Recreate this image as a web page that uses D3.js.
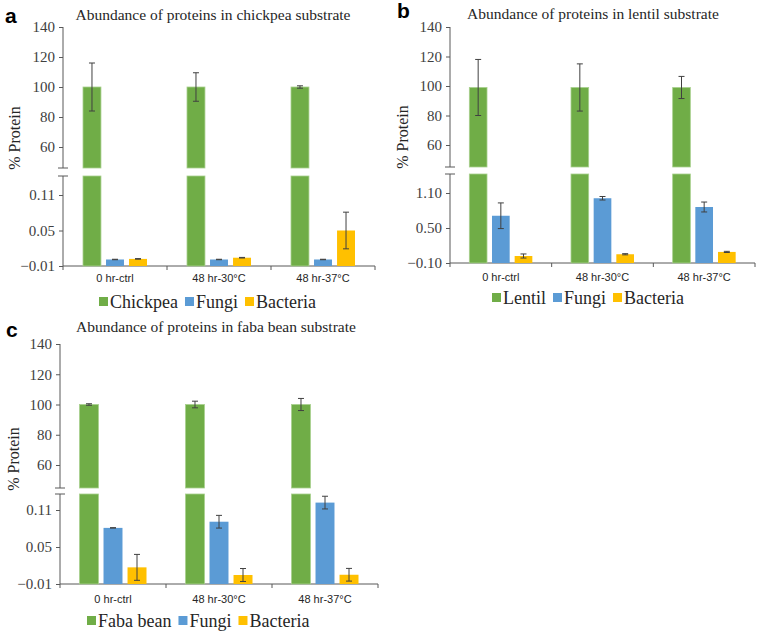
<!DOCTYPE html>
<html>
<head>
<meta charset="utf-8">
<script src="https://cdn.jsdelivr.net/npm/d3@7"></script>
<style>
  body { margin: 0; background: #fff; }
  svg { display: block; }
  .serif { font-family: "Liberation Serif", "Times New Roman", Tinos, "DejaVu Serif", "Noto Serif", serif; }
  .sans { font-family: "Liberation Sans", Arial, sans-serif; }
</style>
</head>
<body>
<div id="chart"></div>
<script>
// categories and series
const categories = ["0 hr-ctrl", "48 hr-30°C", "48 hr-37°C"];
const seriesColors = ["#70AD47", "#5B9BD5", "#FFC000"];
const upperTicks = [140, 120, 100, 80, 60];

// panel a - chickpea
const chickpeaSeries = ["Chickpea", "Fungi", "Bacteria"];
const chickpeaSubstrate = [100, 100, 100];
const chickpeaSubstrateErr = [16, 9.5, 0.8];
const chickpeaFungi = [0.001, 0.001, 0.001];
const chickpeaFungiErr = [0.0004, 0.0004, 0.0004];
const chickpeaBacteria = [0.002, 0.004, 0.05];
const chickpeaBacteriaErr = [0.0005, 0.0005, 0.031];
const chickpeaLowerTicks = [0.11, 0.05, -0.01];

// panel b - lentil
const lentilSeries = ["Lentil", "Fungi", "Bacteria"];
const lentilSubstrate = [99, 99, 99];
const lentilSubstrateErr = [19, 16, 7.5];
const lentilFungi = [0.71, 1.01, 0.86];
const lentilFungiErr = [0.22, 0.03, 0.085];
const lentilBacteria = [0.02, 0.05, 0.09];
const lentilBacteriaErr = [0.035, 0.01, 0.01];
const lentilLowerTicks = [1.10, 0.50, -0.10];

// panel c - faba bean
const fabaSeries = ["Faba bean", "Fungi", "Bacteria"];
const fabaSubstrate = [100, 100, 100];
const fabaSubstrateErr = [0.5, 2.2, 4];
const fabaFungi = [0.081, 0.091, 0.122];
const fabaFungiErr = [0.0003, 0.0103, 0.0103];
const fabaBacteria = [0.017, 0.0046, 0.005];
const fabaBacteriaErr = [0.021, 0.0105, 0.0103];
const fabaLowerTicks = [0.11, 0.05, -0.01];

const svg = d3.select("#chart")
  .append("svg")
  .attr("width", 764)
  .attr("height", 634);

const axisColor = "#595959";

function drawPanel(p) {
  const g = svg.append("g");

  // scales
  const yU = d3.scaleLinear().domain([60, 140]).range([p.y60, p.y140]);
  const yL = d3.scaleLinear().domain([p.lowerTicks[2], p.lowerTicks[0]]).range([p.base, p.yLowTop]);
  const x = d3.scaleBand().domain(categories).range([p.x0, p.x1]);
  const inner = d3.scaleBand().domain([0, 1, 2])
    .range([x.bandwidth() / 2 - p.group / 2, x.bandwidth() / 2 + p.group / 2])
    .paddingInner(p.pad);

  // title and panel letter
  g.append("text")
    .attr("class", "serif")
    .attr("x", p.titleX).attr("y", p.titleY)
    .attr("text-anchor", "middle")
    .style("font-size", "15.5px").style("fill", "#262626")
    .text(p.title);
  g.append("text")
    .attr("class", "sans")
    .attr("x", p.letterX).attr("y", p.letterY)
    .style("font-weight", "bold").style("font-size", "21px")
    .text(p.letter);

  // y axis label
  g.append("text")
    .attr("class", "serif")
    .attr("transform", `translate(${p.labelX},${p.labelY}) rotate(-90)`)
    .attr("text-anchor", "middle")
    .style("font-size", "16px").style("fill", "#262626")
    .text("% Protein");

  // upper axis
  const ua = g.append("g")
    .attr("transform", `translate(${p.x0},0)`)
    .call(d3.axisLeft(yU).tickValues(upperTicks).tickSize(4).tickSizeOuter(0).tickPadding(4));
  ua.select(".domain").remove();

  // lower axis
  const la = g.append("g")
    .attr("transform", `translate(${p.x0},0)`)
    .call(d3.axisLeft(yL).tickValues(p.lowerTicks).tickSize(4).tickSizeOuter(0).tickPadding(4)
      .tickFormat(d3.format(p.fmt)));
  la.select(".domain").remove();

  [ua, la].forEach(a => {
    a.attr("font-family", null).attr("font-size", null);
    a.selectAll(".tick line").attr("stroke", axisColor);
    a.selectAll(".tick text")
      .attr("class", "serif")
      .style("font-size", "15px").attr("fill", "#404040");
  });

  // axis segments with break marks
  g.append("line").attr("x1", p.x0).attr("x2", p.x0)
    .attr("y1", yU(140)).attr("y2", p.brk1).attr("stroke", axisColor);
  g.append("line").attr("x1", p.x0).attr("x2", p.x0)
    .attr("y1", p.brk2).attr("y2", p.base).attr("stroke", axisColor);
  [p.brk1, p.brk2].forEach(yy => {
    g.append("line").attr("x1", p.x0 - 5).attr("x2", p.x0 + 5)
      .attr("y1", yy).attr("y2", yy).attr("stroke", axisColor);
  });

  // x axis
  g.append("line").attr("x1", p.x0).attr("x2", p.x1)
    .attr("y1", p.base).attr("y2", p.base).attr("stroke", axisColor);
  const bounds = categories.map(c => x(c)).concat([p.x1]);
  g.selectAll(".xtick").data(bounds).enter().append("line")
    .attr("x1", d => d).attr("x2", d => d)
    .attr("y1", p.base).attr("y2", p.base + 4)
    .attr("stroke", axisColor);
  g.selectAll(".xlab").data(categories).enter().append("text")
    .attr("class", "sans")
    .attr("x", d => x(d) + x.bandwidth() / 2)
    .attr("y", p.catY)
    .attr("text-anchor", "middle")
    .style("font-size", "11px").style("fill", "#262626")
    .text(d => d);

  // bars
  const rows = categories.map((c, i) => ({ c, i }));
  const bx = (d, s) => x(d.c) + inner(s);

  // substrate: upper piece and lower piece
  g.selectAll(".subU").data(rows).enter().append("rect")
    .attr("x", d => bx(d, 0)).attr("width", inner.bandwidth())
    .attr("y", d => yU(p.substrate[d.i]))
    .attr("height", d => p.brk1 - yU(p.substrate[d.i]))
    .attr("fill", seriesColors[0]).attr("stroke", "#a9d08e").attr("stroke-width", 0.8);
  g.selectAll(".subL").data(rows).enter().append("rect")
    .attr("x", d => bx(d, 0)).attr("width", inner.bandwidth())
    .attr("y", p.brk2)
    .attr("height", p.base - p.brk2)
    .attr("fill", seriesColors[0]).attr("stroke", "#a9d08e").attr("stroke-width", 0.8);

  [p.fungi, p.bacteria].forEach((vals, k) => {
    g.selectAll(".low" + k).data(rows).enter().append("rect")
      .attr("x", d => bx(d, k + 1)).attr("width", inner.bandwidth())
      .attr("y", d => yL(vals[d.i]))
      .attr("height", d => p.base - yL(vals[d.i]))
      .attr("fill", seriesColors[k + 1]);
  });

  // error bars
  function errBars(vals, errs, s, y) {
    rows.forEach(d => {
      const cx = bx(d, s) + inner.bandwidth() / 2;
      const top = y(vals[d.i] + errs[d.i]);
      const bot = y(vals[d.i] - errs[d.i]);
      g.append("line").attr("x1", cx).attr("x2", cx).attr("y1", top).attr("y2", bot)
        .attr("stroke", "#404040").attr("stroke-width", 1);
      [top, bot].forEach(yy => {
        g.append("line").attr("x1", cx - 3).attr("x2", cx + 3).attr("y1", yy).attr("y2", yy)
          .attr("stroke", "#404040").attr("stroke-width", 1);
      });
    });
  }
  errBars(p.substrate, p.substrateErr, 0, yU);
  errBars(p.fungi, p.fungiErr, 1, yL);
  errBars(p.bacteria, p.bacteriaErr, 2, yL);

  // legend
  const lg = g.append("g").attr("transform", `translate(${p.legX},${p.legY})`);
  let lx = 0;
  p.series.forEach((name, i) => {
    lg.append("rect").attr("x", lx).attr("y", -5).attr("width", 9).attr("height", 9)
      .attr("fill", seriesColors[i]);
    const t = lg.append("text").attr("class", "serif")
      .attr("x", lx + 11).attr("y", 6)
      .style("font-size", "18px").style("fill", "#262626")
      .text(name);
    lx += 11 + t.node().getComputedTextLength() + 7;
  });
}

drawPanel({
  letter: "a", letterX: 5, letterY: 23,
  title: "Abundance of proteins in chickpea substrate", titleX: 213, titleY: 20,
  labelX: 20, labelY: 138,
  x0: 63, x1: 375, group: 64, pad: 0.22,
  y140: 27, y60: 147, brk1: 168, brk2: 176,
  base: 266, yLowTop: 195, lowerTicks: chickpeaLowerTicks, fmt: ".2f",
  catY: 282, legX: 99, legY: 302,
  series: chickpeaSeries,
  substrate: chickpeaSubstrate, substrateErr: chickpeaSubstrateErr,
  fungi: chickpeaFungi, fungiErr: chickpeaFungiErr,
  bacteria: chickpeaBacteria, bacteriaErr: chickpeaBacteriaErr
});

drawPanel({
  letter: "b", letterX: 397, letterY: 18,
  title: "Abundance of proteins in lentil substrate", titleX: 593, titleY: 19,
  labelX: 408, labelY: 137,
  x0: 450, x1: 755, group: 63, pad: 0.22,
  y140: 27, y60: 145, brk1: 167, brk2: 174,
  base: 263, yLowTop: 193, lowerTicks: lentilLowerTicks, fmt: ".2f",
  catY: 281, legX: 492, legY: 298,
  series: lentilSeries,
  substrate: lentilSubstrate, substrateErr: lentilSubstrateErr,
  fungi: lentilFungi, fungiErr: lentilFungiErr,
  bacteria: lentilBacteria, bacteriaErr: lentilBacteriaErr
});

drawPanel({
  letter: "c", letterX: 6, letterY: 337,
  title: "Abundance of proteins in faba bean substrate", titleX: 216, titleY: 332,
  labelX: 19, labelY: 459,
  x0: 60, x1: 378, group: 67, pad: 0.21,
  y140: 344, y60: 465, brk1: 488, brk2: 494,
  base: 584, yLowTop: 510, lowerTicks: fabaLowerTicks, fmt: ".2f",
  catY: 603, legX: 87, legY: 621,
  series: fabaSeries,
  substrate: fabaSubstrate, substrateErr: fabaSubstrateErr,
  fungi: fabaFungi, fungiErr: fabaFungiErr,
  bacteria: fabaBacteria, bacteriaErr: fabaBacteriaErr
});
</script>
</body>
</html>
